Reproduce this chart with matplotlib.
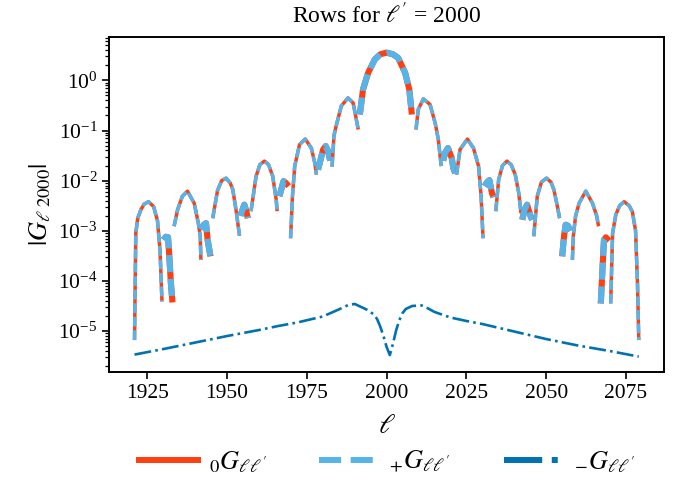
import numpy as np
import matplotlib
matplotlib.use("Agg")
import matplotlib.pyplot as plt
from matplotlib.lines import Line2D

plt.rcParams["font.family"] = "serif"
plt.rcParams["font.serif"] = ["Liberation Serif", "DejaVu Serif"]
plt.rcParams["mathtext.fontset"] = "stix"

nan = np.nan

# |G_{l,2000}| for the 0G and +G kernels (identical); NaN separates the lobes
ell_0 = [
    1921.0, 1921.4, 1922.0, 1923.0, 1924.0, 1925.4, 1927.0, 1928.2, 1929.0, 1929.6, nan,
    1930.1, 1930.8, 1931.5, 1931.9, 1932.4, 1932.9, nan,
    1933.4, 1934.5, 1936.0, 1937.6, 1939.7, 1941.0, 1941.6, 1941.8, nan,
    1942.0, 1942.7, 1943.4, 1943.9, 1944.8, nan,
    1945.5, 1947.0, 1948.3, 1949.7, 1951.0, 1951.8, 1952.8, 1953.9, nan,
    1954.2, 1955.4, 1956.0, 1956.5, nan,
    1957.5, 1959.1, 1960.3, 1961.7, 1963.0, 1964.3, 1965.4, 1965.7, nan,
    1966.4, 1967.7, 1968.5, 1969.3, nan,
    1969.9, 1970.5, 1971.2, 1972.7, 1974.5, 1976.4, 1977.5, 1978.0, nan,
    1978.5, 1980.1, 1980.9, 1981.7, 1982.3, nan,
    1982.9, 1983.5, 1984.3, 1985.8, 1987.9, 1989.5, 1990.3, 1991.1, nan,
    1991.6, 1992.6, 1994.2, 1996.3, 1998.0, 2000.0, 2002.0, 2003.6, 2005.8, 2007.1, 2007.9, nan,
    2009.2, 2009.9, 2011.5, 2013.6, 2015.2, 2016.2, 2017.1, nan,
    2017.7, 2018.3, 2019.2, 2020.4, 2020.9, 2021.5, nan,
    2021.9, 2022.5, 2023.0, 2025.3, 2027.2, 2028.8, 2029.6, 2030.2, nan,
    2030.7, 2031.5, 2032.2, 2033.0, 2033.5, nan,
    2034.2, 2035.1, 2036.3, 2037.7, 2039.0, 2040.3, 2041.4, 2042.1, nan,
    2042.5, 2043.2, 2044.0, 2045.1, 2045.6, nan,
    2046.1, 2047.2, 2048.5, 2050.1, 2051.5, 2052.4, 2053.3, 2054.2, nan,
    2055.0, 2055.6, 2056.1, 2056.8, 2057.6, nan,
    2058.2, 2058.5, 2059.2, 2060.3, 2062.4, 2064.5, 2065.8, 2066.4, nan,
    2067.1, 2067.6, 2068.1, 2068.7, 2069.7, nan,
    2070.2, 2070.8, 2071.8, 2073.0, 2074.4, 2076.0, 2077.0, 2078.0, 2078.6, 2079.0,
]
log_G0 = [
    -5.18, -3.05, -2.75, -2.58, -2.47, -2.42, -2.52, -2.80, -3.40, -4.41, nan,
    -3.18, -3.12, -3.13, -3.50, -4.05, -4.43, nan,
    -2.91, -2.58, -2.31, -2.21, -2.45, -2.85, -3.11, -3.58, nan,
    -2.98, -2.88, -2.85, -3.18, -3.51, nan,
    -2.75, -2.20, -2.00, -1.95, -2.05, -2.18, -2.58, -3.10, nan,
    -2.70, -2.48, -2.60, -2.75, nan,
    -2.61, -1.91, -1.68, -1.61, -1.68, -1.91, -2.38, -2.61, nan,
    -2.31, -2.01, -2.05, -2.11, nan,
    -3.15, -2.30, -1.71, -1.28, -1.17, -1.35, -1.65, -1.88, nan,
    -1.78, -1.38, -1.31, -1.42, -1.60, nan,
    -1.72, -1.10, -0.88, -0.51, -0.35, -0.45, -0.71, -0.98, nan,
    -0.68, -0.18, 0.15, 0.42, 0.52, 0.554, 0.52, 0.45, 0.15, -0.18, -0.68, nan,
    -0.98, -0.58, -0.37, -0.48, -0.85, -1.18, -1.71, nan,
    -1.60, -1.45, -1.35, -1.55, -1.75, -1.85, nan,
    -1.88, -1.60, -1.38, -1.17, -1.35, -1.71, -2.31, -3.15, nan,
    -2.11, -2.03, -1.99, -2.25, -2.33, nan,
    -2.61, -1.98, -1.70, -1.61, -1.68, -1.88, -2.25, -2.65, nan,
    -2.78, -2.58, -2.48, -2.71, -2.78, nan,
    -3.11, -2.31, -2.03, -1.95, -2.03, -2.18, -2.45, -2.75, nan,
    -3.51, -3.10, -2.88, -2.90, -3.00, nan,
    -3.58, -3.10, -2.71, -2.45, -2.21, -2.45, -2.70, -2.91, nan,
    -4.45, -3.80, -3.18, -3.13, -3.20, nan,
    -4.45, -3.05, -2.68, -2.50, -2.42, -2.50, -2.62, -3.00, -4.05, -5.18,
]

# |G_{l,2000}| for the -G kernel
ell_minus = [1921, 1930, 1940, 1950, 1960, 1966, 1972, 1980, 1985, 1988, 1990,
             1992, 1994, 1996, 1997, 1998, 1999, 2000, 2001, 2002, 2003, 2004,
             2005, 2006, 2008, 2011, 2013, 2015, 2020, 2025, 2030, 2040, 2050,
             2060, 2070, 2079]
log_Gminus = [-5.47, -5.36, -5.23, -5.10, -4.98, -4.90, -4.83, -4.71, -4.57, -4.48, -4.46,
              -4.52, -4.58, -4.67, -4.76, -4.91, -5.10, -5.32, -5.48, -5.25, -4.98, -4.78,
              -4.64, -4.56, -4.50, -4.49, -4.55, -4.62, -4.73, -4.80, -4.86, -5.01, -5.16,
              -5.29, -5.40, -5.51]

title = r"Rows for $\ell'$ = 2000"
xlabel = r"$\ell$"
ylabel = r"$|G_{\ell\ 2000}|$"
labels = [r"${}_{0}G_{\ell\ell'}$", r"${}_{+}G_{\ell\ell'}$", r"${}_{-}G_{\ell\ell'}$"]

c_zero = "#FF3F10"
c_plus = "#56B4E9"
c_minus = "#0072B2"
dash_plus = (0, (2.8, 1.1))

ell_0 = np.array(ell_0)
G0 = 10.0 ** np.array(log_G0)
Gplus = G0.copy()
Gminus = 10.0 ** np.array(log_Gminus)

fig = plt.figure(figsize=(6.81, 4.86), dpi=100)
ax = fig.add_axes([0.1605, 0.235, 0.8145, 0.688])

# split the kernel rows into their separate lobes
breaks = np.where(np.isnan(ell_0))[0]
starts = np.concatenate([[0], breaks + 1])
stops = np.concatenate([breaks, [len(ell_0)]])
# narrow side-lobes and the central lobe are drawn heavier
heavy = {1, 3, 5, 7, 9, 11, 13, 15, 17, 19, 21}

for i, (a, b) in enumerate(zip(starts, stops)):
    lw = 4.4 if i in heavy else 2.5
    ax.plot(ell_0[a:b], G0[a:b], color=c_zero, lw=lw, solid_capstyle="butt")
    ax.plot(ell_0[a:b], Gplus[a:b], color=c_plus, lw=lw, ls=dash_plus,
            dash_capstyle="butt")

ax.plot(ell_minus, Gminus, color=c_minus, lw=1.9, ls="-.")

ax.set_yscale("log")
ax.set_xticks([1925, 1950, 1975, 2000, 2025, 2050, 2075])
ax.tick_params(axis="both", which="major", labelsize=15.5, length=5, width=1.2)
ax.tick_params(axis="y", which="minor", length=3, width=0.9)
for s in ax.spines.values():
    s.set_linewidth(1.4)

ax.set_title(title, fontsize=17, pad=10)
ax.set_xlabel(xlabel, fontsize=20, labelpad=8)
ax.set_ylabel(ylabel, fontsize=19)

handles = [
    Line2D([], [], color=c_zero, lw=4.3),
    Line2D([], [], color=c_plus, lw=4.3, ls="--"),
    Line2D([], [], color=c_minus, lw=4.3, ls="-."),
]
fig.legend(handles, labels, loc="center", bbox_to_anchor=(0.568, 0.049), ncol=3,
           frameon=False, fontsize=19, handlelength=2.25, handletextpad=0.4,
           columnspacing=2.0)

fig.savefig("out.png", dpi=100)
